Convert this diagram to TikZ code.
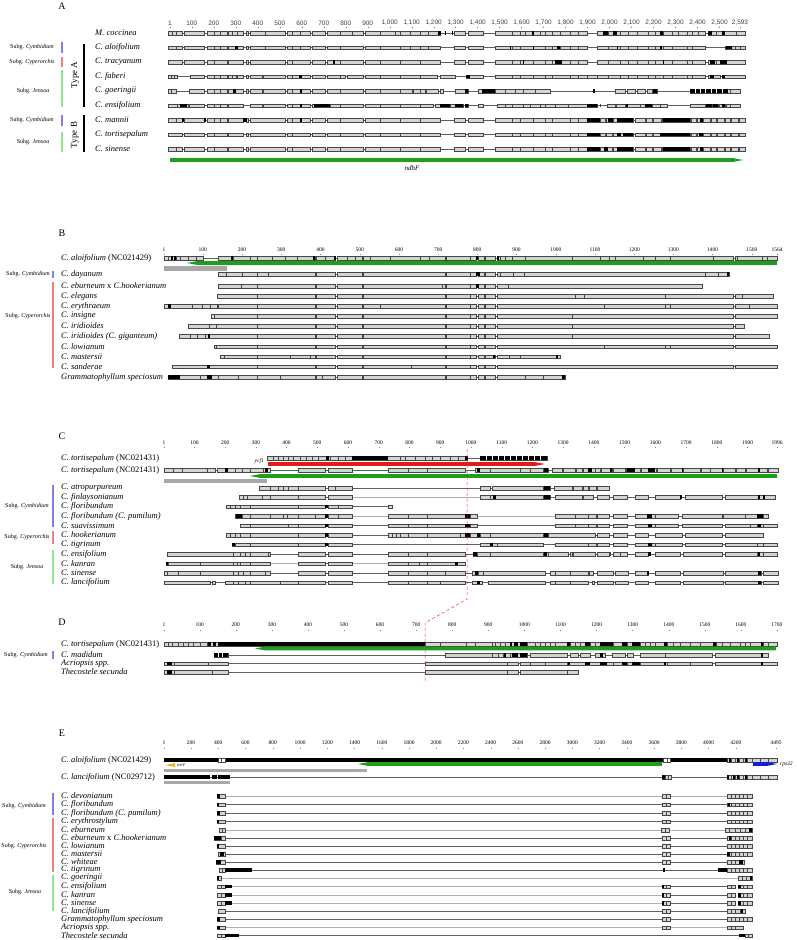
\documentclass[tikz,border=0pt]{standalone}
\usepackage{fontspec}
\setmainfont{Liberation Serif}
\newfontfamily\numsans{Liberation Sans}
\definecolor{boxfill}{RGB}{212,212,212}
\definecolor{boxedge}{RGB}{70,70,70}
\definecolor{linedark}{RGB}{95,95,95}
\definecolor{linelight}{RGB}{175,175,175}
\definecolor{subgblue}{RGB}{128,128,236}
\definecolor{subgred}{RGB}{238,128,128}
\definecolor{subggreen}{RGB}{140,232,140}
\definecolor{genegreen}{RGB}{28,160,28}
\definecolor{genered}{RGB}{222,28,28}
\definecolor{geneorange}{RGB}{242,178,30}
\definecolor{geneblue}{RGB}{20,30,212}
\definecolor{regiongrey}{RGB}{168,168,168}
\definecolor{cutred}{RGB}{222,40,60}
\usetikzlibrary{calc}

\newcommand{\segs}[3][seqbox]{\edef\seglist{#3}\foreach \xa/\xb in \seglist {\draw[#1] (\xa,#2-1.7) rectangle (\xb,#2+1.7);}}
\newcommand{\blks}[2]{\edef\seglist{#2}\foreach \xa/\xb in \seglist {\fill[black] (\xa,#1-1.7) rectangle (\xb,#1+1.7);}}
\newcommand{\divs}[3][divline]{\foreach \xa in {#3} {\draw[#1] (\xa,#2-1.7) -- (\xa,#2+1.7);}}
\newcommand{\gapline}[4][rowline]{\draw[#1] (#3,#2) -- (#4,#2);}
\newcommand{\geneL}[4]{\fill[#1] (#3,#2) -- (#3+10,#2-1.9) -- (#4,#2-1.9) -- (#4,#2+1.9) -- (#3+10,#2+1.9) -- cycle;}
\newcommand{\geneR}[4]{\fill[#1] (#4,#2) -- (#4-10,#2-1.9) -- (#3,#2-1.9) -- (#3,#2+1.9) -- (#4-10,#2+1.9) -- cycle;}

\def\Al{168/182,184/204,207/227,228/243,246/248,250/285,287/310,312/325,327/363,365/400}
\def\Ar{400/440,454/465,468/483,495/512,512/533,533/552,552/570,570/587,597/608,608/620,620/637,637/648,648/663,663/687,687/705,708/745}
\def\Arb{400/440,454/465,468/483,495/512,512/533,533/552,552/570,570/587,587/600,600/605,606/612,613/620,620/627,628/633,635/645,646/652,653/661,662/667,668/681,682/690,691/696,697/702,703/710,711/716,717/724,725/730,731/738,739/745}
\def\Bm{257/315,316/335,337/362,363/445,446/470,470/476,478/484,485/495}
\def\Cm{298/325,328/352}
\def\Cr{388/408,408/427,427/465}
\def\Ct{480/490,490/543,548/553,555/570,570/588,589/593,597/613,615/628,635/648,655/680,683/723,725/758,758/761,763/777}
\def\Et{727/731,731/735,735/739,739/743,743/747,747/752}

\begin{document}
\begin{tikzpicture}[x=1pt,y=-1pt,
  seqbox/.style={fill=boxfill,draw=boxedge,line width=0.35pt},
  divline/.style={draw=boxedge,line width=0.3pt},
  rowline/.style={draw=linedark,line width=0.5pt},
  lightline/.style={draw=linelight,line width=0.6pt},
  sp/.style={anchor=west,inner sep=0pt,font=\fontsize{8.5}{9}\selectfont\itshape},
  subg/.style={inner sep=0pt,font=\fontsize{6}{6.5}\selectfont},
  num/.style={inner sep=0pt,font=\fontsize{5.5}{6}\selectfont},
  numA/.style={inner sep=0pt,text=black!75,font=\numsans\fontsize{6.5}{7}\selectfont},
  panel/.style={inner sep=0pt,font=\fontsize{10}{11}\selectfont},
  gene/.style={inner sep=0pt,font=\fontsize{7}{8}\selectfont\itshape},
  smallgene/.style={inner sep=0pt,font=\fontsize{4.5}{5}\selectfont\itshape}]
\useasboundingbox (0,0) rectangle (796,940);

% ---------------- A
\node[panel] (pA) at (62,6) {A};
\node[numA] (a-n1) at (170,23) {1};
\draw[black!60,line width=0.3pt] (170,26.5) -- (170,28);
\foreach \v/\t in {100/100,200/200,300/300,400/400,500/500,600/600,700/700,800/800,900/900,1000/{1,000},1100/{1,100},1200/{1,200},1300/{1,300},1400/{1,400},1500/{1,500},1600/{1,600},1700/{1,700},1800/{1,800},1900/{1,900},2000/{2,000},2100/{2,100},2200/{2,200},2300/{2,300},2400/{2,400},2500/{2,500},2593/{2,593}}{
  \node[numA] (a-n\v) at ({170+(\v-1)*0.2199},23) {\t};
  \draw[black!60,line width=0.3pt] ({170+(\v-1)*0.2199},26.5) -- ({170+(\v-1)*0.2199},28);
}
\foreach \t [count=\i] in {{M. coccinea},{C. aloifolium},{C. tracyanum},{C. faberi},{C. goeringii},{C. ensifolium},{C. mannii},{C. tortisepalum},{C. sinense}}
  \node[sp] (a\i) at (95,{33+14.5*(\i-1)}) {\t};
\node[subg] (a-s1) at (32,47.5) {Subg. \textit{Cymbidium}};
\node[subg] (a-s2) at (32,62) {Subg. \textit{Cyperorchis}};
\node[subg] (a-s3) at (33,91) {Subg. \textit{Jensoa}};
\node[subg] (a-s4) at (32,120) {Subg. \textit{Cymbidium}};
\node[subg] (a-s5) at (33,142) {Subg. \textit{Jensoa}};
\draw[subgblue,line width=2pt] (62,42) -- (62,53);
\draw[subgred,line width=2pt] (62,57) -- (62,67);
\draw[subggreen,line width=2pt] (62,70) -- (62,107);
\draw[subgblue,line width=2pt] (62,115) -- (62,126);
\draw[subggreen,line width=2pt] (62,132) -- (62,152);
\node[rotate=90,inner sep=0pt,font=\fontsize{9}{10}\selectfont] (typeA) at (75,75) {Type A};
\node[rotate=90,inner sep=0pt,font=\fontsize{9}{10}\selectfont] (typeB) at (75,135) {Type B};
\draw[line width=2pt] (84,44) -- (84,107);
\draw[line width=2pt] (84,115) -- (84,152);

\gapline{33}{168}{745}
\segs{33}{\Al,\Ar}
\divs{33}{172,176,214,220,232,237,265,292,300,340,352,380,395,410,420,428,520,525,540,545,560,578,614,628,655,672,678,692,698,716,724,736}
\blks{33}{438/441,445/446,452/453,532/534,603/608,613/617,660/663,708/712,722/725}

\gapline{47.5}{168}{745}
\segs{47.5}{\Al,400/440,454/465,468/483,495/512,512/533,533/552,552/570,570/587,597/608,608/620,620/637,637/648,648/663,663/687,687/705,725/745}
\divs{47.5}{176,214,220,265,292,300,340,380,410,420,428,520,545,560,578,628,655,672,692,735,740}
\blks{47.5}{235/238,510/511,533/534,557/560,617/618,660/662,726/732}

\gapline{62}{168}{745}
\segs{62}{\Al,\Ar}
\divs{62}{214,292,340,380,420,520,545,578,628,655,672,692,716,724}
\blks{62}{333/335,523/524,555/562,663/664,710/715,720/727}

\gapline{76.5}{168}{745}
\segs{76.5}{168/177,190/204,207/227,228/236,237/243,246/248,250/262,263/285,287/310,312/325,327/345,347/363,365/400,400/437,440/455,466/483,495/512,512/533,533/552,552/570,570/587,587/597,597/608,608/620,620/637,637/648,648/663,663/687,687/705,708/720,722/745}
\divs{76.5}{171,174,214,220,232,292,340,380,420,520,545,578,628,655,672,692}
\blks{76.5}{299/302,466/470,710/714,722/725}

\gapline{91}{168}{740}
\segs{91}{168/176,189/204,207/227,228/243,246/248,250/262,263/285,287/300,301/310,312/325,327/363,365/400,400/412,413/425,426/438,440/443,455/468,478/495,495/523,523/550,615/625,627/635,637/645,647/652,653/657,690/740}
\divs{91}{171,214,220,292,340,380,420,505,515,535,730}
\blks{91}{233/236,300/302,465/468,482/495,593/595,653/657,690/728}
\divs[draw=white,line width=0.3pt]{91}{695,700,705,711,716,722}

\gapline{105.5}{168}{740}
\segs{105.5}{168/177,177/188,189/204,207/227,228/243,250/262,263/285,287/310,312/330,330/363,365/400,400/433,435/440,440/450,450/463,465/468,478/483,497/512,512/523,523/540,540/555,555/568,568/587,587/597,607/615,616/625,626/640,640/652,652/667,690/705,706/712,713/718,719/725,726/740}
\divs{105.5}{214,220,292,340,380,420,505,530,545,600,660,730}
\blks{105.5}{180/187,300/302,314/330,440/450,455/463,465/468,587/597,626/628,645/652,706/712,713/718,722/725}

\gapline{120}{168}{745}
\segs{120}{\Al,\Arb}
\divs{120}{176,214,220,292,340,380,420,520,545,578}
\blks{120}{182/184,204/206,243/247,300/302,587/600,608/613,617/633,663/690,700/703}

\gapline{134.5}{168}{745}
\segs{134.5}{\Al,\Arb}
\divs{134.5}{214,292,340,380,420,520,545,578}
\blks{134.5}{587/600,617/621,623/633,660/690,699/703}

\gapline{149}{168}{745}
\segs{149}{\Al,\Arb}
\divs{149}{176,214,292,340,380,420,520,545,578}
\blks{149}{587/600,604/608,617/633,663/690,700/703}

\geneR{genegreen}{160}{170}{743}
\node[gene] (ndhF) at (412,168.5) {ndhF};

% ---------------- B
\node[panel] (pB) at (62,233) {B};
\node[num] (b-n1) at (164,250) {1};
\draw[black!50,line width=0.4pt] (164,254) -- (164,255);
\foreach \v in {100,200,...,1500,1564}{
  \node[num] (b-n\v) at ({164+(\v-1)*0.3922},250) {\v};
  \draw[black!50,line width=0.4pt] ({164+(\v-1)*0.3922},254) -- ({164+(\v-1)*0.3922},255);
}
\node[sp] (b0) at (61,258) {C. aloifolium \textup{(NC021429)}};
\foreach \t/\y [count=\i] in {{C. dayanum}/274,{C. eburneum \textup{x} C.hookerianum}/286,{C. elegans}/296,{C. erythraeum}/306,{C. insigne}/316,{C. iridioides}/326,{C. iridioides (C. giganteum)}/336,{C. lowianum}/346.5,{C. mastersii}/356.5,{C. sanderae}/366.5,{Grammatophyllum speciosum}/377}
  \node[sp] (b\i) at (61,\y) {\t};
\node[subg] (b-s1) at (28,274) {Subg. \textit{Cymbidium}};
\node[subg] (b-s2) at (28,316) {Subg. \textit{Cyperorchis}};
\draw[subgblue,line width=2pt] (53,271) -- (53,278);
\draw[subgred,line width=2pt] (53,282) -- (53,368);

\gapline{258}{164}{777}
\segs{258}{164/203,218/257,\Bm,497/733,735/777}
\divs{258}{168,176,180,188,196,233,250,272,285,297,325,347,355,370,390,420,429,500,505,512,525,572,600,609,615,643,655,670,713,737,762,767}
\blks{258}{171/173,174/176,231/233,313/315,334/336,476/478,497/499}
\geneL{genegreen}{263}{187}{777}
\fill[regiongrey] (164,266) rectangle (227,270.5);

\gapline{274}{218}{729}
\segs{274}{218/257,\Bm,497/729}
\divs{274}{226,242,268,500,513,524,705,718}
\blks{274}{476/480,727/729}

\gapline{286}{218}{702}
\segs{286}{218/257,\Bm,497/702}
\divs{286}{241,442,508}
\blks{286}{476/479}

\gapline{296}{217}{773}
\segs{296}{217/257,\Bm,497/733,735/773}
\divs{296}{575,584,665,742}

\gapline{306}{164}{777}
\segs{306}{164/217,218/257,\Bm,497/733,735/777}
\divs{306}{192,202,210,380,604,665,670,749}
\blks{306}{168/171}

\gapline{316}{211}{777}
\segs{316}{211/257,\Bm,497/733,735/777}
\divs{316}{214,572}

\gapline{326}{188}{744}
\segs{326}{188/257,\Bm,497/733,735/744}
\divs{326}{209,216,572}

\gapline{336}{179}{769}
\segs{336}{179/257,\Bm,497/733,735/769}
\divs{336}{190,197,205,572}
\blks{336}{208/210}

\gapline{346.5}{214}{777}
\segs{346.5}{214/216,216/257,\Bm,497/733,735/777}
\divs{346.5}{604,665,670}

\gapline{356.5}{220}{560}
\segs{356.5}{220/257,\Bm,497/560}
\divs{356.5}{224,290,310,509,520}
\blks{356.5}{493/495,556/558}

\gapline{366.5}{172}{777}
\segs{366.5}{172/257,\Bm,497/733,735/777}
\divs{366.5}{411}
\blks{366.5}{207/210}

\gapline{377}{168}{565}
\segs{377}{168/257,\Bm,497/565}
\divs{377}{200,218,238,280,322,525,543}
\blks{377}{168/180,207/212,562/565}

% ---------------- C
\node[panel] (pC) at (62,436) {C};
\node[num] (c-n1) at (164,443) {1};
\draw[black!50,line width=0.4pt] (164,447) -- (164,448);
\foreach \v in {100,200,...,1900,1996}{
  \node[num] (c-n\v) at ({164+(\v-1)*0.3073},443) {\v};
  \draw[black!50,line width=0.4pt] ({164+(\v-1)*0.3073},447) -- ({164+(\v-1)*0.3073},448);
}
\node[sp] (c01) at (61,458) {C. tortisepalum \textup{(NC021431)}};
\node[sp] (c02) at (61,470) {C. tortisepalum \textup{(NC021431)}};
\foreach \t/\y [count=\i] in {{C. atropurpureum}/488,{C. finlaysonianum}/497,{C. floribundum}/506.5,{C. floribundum (C. pumilum)}/516,{C. suavissimum}/525.5,{C. hookerianum}/535,{C. tigrinum}/544.5,{C. ensifolium}/554,{C. kanran}/563.5,{C. sinense}/573,{C. lancifolium}/582.5}
  \node[sp] (c\i) at (61,\y) {\t};
\node[subg] (c-s1) at (27,506) {Subg. \textit{Cymbidium}};
\node[subg] (c-s2) at (27,537) {Subg. \textit{Cyperorchis}};
\node[subg] (c-s3) at (27,567) {Subg. \textit{Jensoa}};
\draw[subgblue,line width=2pt] (53,485) -- (53,527);
\draw[subgred,line width=2pt] (53,531) -- (53,544);
\draw[subggreen,line width=2pt] (53,550) -- (53,584);

\gapline{458}{267}{547}
\segs{458}{267/300,300/330,330/352,352/400,400/467,480/547}
\divs{458}{273,278,283,288,293,306,312,318,338,345,405,415,425,432,440,450,458}
\blks{458}{326/329,352/388,465/468,480/547}
\divs[draw=white,line width=0.3pt]{458}{486,492,498,504,510,516,522,528,534,540}
\geneR{genered}{464}{268}{545}
\node[smallgene,font=\fontsize{5.5}{6}\selectfont\itshape,anchor=east] (ycf1) at (264,461.5) {ycf1};

\gapline{470}{164}{778}
\segs{470}{164/215,217/225,225/235,235/242,242/250,250/263,263/270,\Cm,\Cr,475/490,490/543,543/548,552/562,563/575,576/582,583/600,601/612,613/625,626/640,641/648,648/656,657/670,671/682,683/700,701/722,723/735,736/745,746/758,759/767,768/778}
\divs{470}{173,182,207,520,530,595,700,710}
\blks{470}{225/228,265/268,477/480,544/548,588/592,610/612,627/635,648/655,682/683,722/723,758/760}
\geneL{genegreen}{476}{250}{777}
\fill[regiongrey] (164,479) rectangle (267,483);

\gapline{488}{259}{352}
\gapline{488}{352}{480}
\gapline{488}{480}{609}
\segs{488}{259/270,270/298,\Cm,480/490,492/543,543/550,554/572,573/582,583/588,589/596,597/609}
\divs{488}{278,283,288,335}
\blks{488}{544/550}

\gapline{497}{239}{352}
\gapline[lightline]{497}{352}{480}
\gapline{497}{480}{775}
\segs{497}{239/247,247/270,270/298,\Cm,480/490,490/543,543/550,555/582,583/593,597/609,613/627,635/648,655/680,685/722,725/775}
\divs{497}{243,262,582}
\blks{497}{493/496,544/550,680/682,758/760,763/765}

\gapline{506.5}{226}{392}
\segs{506.5}{226/230,230/235,235/240,240/250,250/298,\Cm,388/392}
\divs{506.5}{338}
\blks{506.5}{325/328}

\gapline{516}{235}{352}
\gapline[lightline]{516}{352}{388}
\gapline{516}{388}{477}
\gapline[lightline]{516}{477}{555}
\gapline{516}{555}{768}
\segs{516}{235/242,242/250,250/270,270/298,\Cm,\Cr,465/470,470/477,555/588,588/596,597/609,613/627,635/648,648/655,655/678,682/722,723/757,757/763,763/768}
\divs{516}{283,287,315,338,575,745}
\blks{516}{236/242,325/328,465/470,647/652,757/763}

\gapline{525.5}{240}{777}
\segs{525.5}{240/250,250/298,\Cm,\Cr,465/470,470/477,555/588,588/596,597/609,613/627,635/648,648/655,655/678,682/722,725/757,757/763,763/777}
\divs{525.5}{288,575,750}
\blks{525.5}{325/328,465/470,648/652,758/761}

\gapline{535}{226}{763}
\segs{535}{226/230,230/235,235/240,240/250,250/298,\Cm,\Cr,465/470,470/480,480/490,490/543,544/548,548/595,597/609,613/627,635/648,655/682,685/722,725/763}
\divs{535}{392,396,400,460}
\blks{535}{325/328,465/470,477/480,544/548}

\gapline{544.5}{232}{777}
\segs{544.5}{232/235,235/250,250/298,\Cm,480/490,490/497,497/543,555/588,588/596,597/609,613/627,635/648,648/655,655/682,685/722,725/757,757/763,763/777}
\blks{544.5}{232/235,325/328,490/493,648/652}

\gapline{554}{167}{777}
\segs{554}{167/233,233/240,240/245,245/250,250/270,\Cm,\Cr,473/477,477/490,490/543,544/548,548/568,570/572,573/595,597/609,613/627,635/648,655/680,683/722,725/757,757/763,763/777}
\divs{554}{268,610,620}
\blks{554}{473/477,544/547,648/651,758/760}

\gapline{563.5}{166}{270}
\gapline[lightline]{563.5}{270}{298}
\gapline{563.5}{298}{352}
\gapline[lightline]{563.5}{352}{388}
\segs{563.5}{166/168,168/233,233/237,237/240,240/250,250/270,\Cm,\Cr}
\divs{563.5}{200,408,419}
\blks{563.5}{166/168,455/458}

\gapline{573}{164}{778}
\segs{573}{164/167,167/233,233/238,238/243,243/250,250/265,265/270,\Cm,\Cr,472/477,478/483,483/545,550/555,555/570,570/588,589/593,597/613,615/628,635/648,655/680,683/723,725/758,758/761,763/778}
\divs{573}{178,200,408,445}
\blks{573}{475/478,647/649,758/761}

\gapline{582.5}{164}{778}
\segs{582.5}{164/210,212/215,225/233,233/238,238/245,245/250,250/280,280/298,\Cm,\Cr,472/482,488/545,550/555,555/570,570/588,592/594,597/613,615/628,635/648,655/680,683/723,725/758,758/761,763/778}
\divs{582.5}{408,440}
\blks{582.5}{477/480,758/761}

% ---------------- D
\node[panel] (pD) at (62,622) {D};
\node[num] (d-n1) at (164,625) {1};
\draw[black!50,line width=0.4pt] (164,629.5) -- (164,630.5);
\foreach \v in {100,200,...,1700}{
  \node[num] (d-n\v) at ({164+(\v-1)*0.3608},625) {\v};
  \draw[black!50,line width=0.4pt] ({164+(\v-1)*0.3608},629.5) -- ({164+(\v-1)*0.3608},630.5);
}
\foreach \t/\y [count=\i] in {{C. tortisepalum \textup{(NC021431)}}/644,{C. madidum}/655,{Acriopsis spp.}/663.5,{Thecostele secunda}/672}
  \node[sp] (d\i) at (61,\y) {\t};
\node[subg] (d-s1) at (26,655) {Subg. \textit{Cymbidium}};
\draw[subgblue,line width=2pt] (53,651) -- (53,659);

\gapline{644}{164}{777}
\segs{644}{164/200,200/207,207/222,222/425,425/440,440/466,466/475,475/492,492/510,510/527,527/567,567/570,570/585,585/590,590/600,600/613,613/622,622/627,627/632,632/640,640/664,664/667,667/690,690/713,713/716,716/740,740/761,761/763,763/777}
\divs{644}{168,172,178,183,188,193,495,500,505,535,540,545,550,555,575,580,595,645,650,655,673,680,700,722,730,745,750,768}
\blks{644}{208/211,213/216,218/222,222/425,510/512,514/518,520/527,567/570,585/590,600/613,622/627,632/640,664/667,713/716,761/763}
\geneL{genegreen}{648.5}{255}{776}

\gapline{655}{214}{768}
\segs{655}{214/228,445/492,492/498,498/503,503/510,510/527,530/567,570/578,580/590,595/605,612/625,627/633,640/665,665/712,715/768}
\blks{655}{214/228,504/506,512/518,520/527,600/603,761/763}
\divs[draw=white,line width=0.3pt]{655}{218,222}

\gapline{663.5}{164}{777}
\segs{663.5}{164/174,174/208,208/228,425/507,507/518,520/567,567/585,585/600,600/613,613/622,622/627,627/632,632/640,640/664,664/667,667/712,715/777}
\divs{663.5}{168,171,530,545,690}
\blks{663.5}{167/172,568/570,585/590,600/607,622/627,632/640,664/666,761/763}

\gapline{672}{164}{578}
\segs{672}{164/174,174/212,212/228,425/507,507/518,520/567,567/578}
\divs{672}{168,171}
\blks{672}{167/172}

\coordinate (cutA) at (467,449);
\coordinate (cutB) at (467,599);
\coordinate (cutC) at (425,623);
\coordinate (cutD) at (425,683);
\draw[cutred,line width=0.5pt,dash pattern=on 3pt off 2.5pt] (cutA) -- (cutB) -- (cutC) -- (cutD);

% ---------------- E
\node[panel] (pE) at (62,733) {E};
\node[num] (e-n1) at (164,743) {1};
\draw[black!50,line width=0.4pt] (164,747.5) -- (164,748.5);
\foreach \v in {200,400,...,4200,4495}{
  \node[num] (e-n\v) at ({164+(\v-1)*0.13618},743) {\v};
  \draw[black!50,line width=0.4pt] ({164+(\v-1)*0.13618},747.5) -- ({164+(\v-1)*0.13618},748.5);
}
\node[sp] (e01) at (61,760) {C. aloifolium \textup{(NC021429)}};
\node[sp] (e02) at (61,777) {C. lancifolium \textup{(NC029712)}};
\foreach \t/\y [count=\i] in {{C. devonianum}/796,{C. floribundum}/804.5,{C. floribundum (C. pumilum)}/813,{C. erythrostylum}/821.5,{C. eburneum}/830,{C. eburneum \textup{x} C.hookerianum}/838,{C. lowianum}/846,{C. mastersii}/854,{C. whiteae}/862,{C. tigrinum}/870,{C. goeringii}/878,{C. ensifolium}/886.5,{C. kanran}/895,{C. sinense}/903,{C. lancifolium}/911,{Grammatophyllum speciosum}/919,{Acriopsis spp.}/927.5,{Thecostele secunda}/935.5}
  \node[sp] (e\i) at (61,\y) {\t};
\node[subg] (e-s1) at (24,806) {Subg. \textit{Cymbidium}};
\node[subg] (e-s2) at (24,846) {Subg. \textit{Cyperorchis}};
\node[subg] (e-s3) at (25,892) {Subg. \textit{Jensoa}};
\draw[subgblue,line width=2pt] (53,793) -- (53,815);
\draw[subgred,line width=2pt] (53,818) -- (53,872);
\draw[subggreen,line width=2pt] (53,875) -- (53,911);

\blks{760}{164/663,670/727}
\segs[fill=white,draw=boxedge,line width=0.35pt]{760}{218/221,221/225,663/667,667/670}
\segs{760}{\Et,752/760,760/768,768/777}
\blks{760}{729/731,737/739,745/747}
\geneL{geneorange}{765}{165}{175}
\node[smallgene,anchor=west] (trnV) at (177,765) {trnV};
\geneL{genegreen}{764}{358}{662}
\geneR{geneblue}{764}{753}{777}
\node[smallgene,font=\fontsize{5.5}{6}\selectfont\itshape,anchor=west] (rps32) at (780,764) {rps32};
\fill[regiongrey] (164,768.5) rectangle (367,771.5);

\gapline{777}{164}{777}
\blks{777}{164/210,212/217,218/230}
\segs{777}{662/665,665/668,668/671,\Et,752/760,760/768,768/777}
\blks{777}{662/665,727/729,733/735,737/739,745/747}
\fill[regiongrey] (164,780.5) rectangle (230,783.5);

\gapline[lightline]{796}{225}{727}
\segs{796}{217/225,662/666,666/670,\Et}
\blks{796}{217/220}

\gapline{804.5}{225}{727}
\segs{804.5}{217/225,662/666,666/670,\Et}
\blks{804.5}{217/219,728/730}

\gapline{813}{225}{727}
\segs{813}{217/225,662/666,666/670,\Et}
\blks{813}{217/220}

\gapline{821.5}{225}{727}
\segs{821.5}{217/225,662/666,666/670,\Et}
\blks{821.5}{217/219}

\gapline[lightline]{830}{225}{725}
\segs{830}{219/222,222/225,661/665,665/669,725/729,729/735,735/740,740/745,745/752}
\blks{830}{749/752}

\gapline{838}{225}{727}
\segs{838}{214/218,218/221,221/225,662/666,666/670,\Et}
\blks{838}{214/221,729/731}

\gapline{846}{225}{727}
\segs{846}{217/225,662/666,666/670,\Et}
\blks{846}{217/219}

\gapline{854}{225}{727}
\segs{854}{218/225,662/666,666/670,\Et}
\blks{854}{220/224,727/730}

\gapline{862}{225}{727}
\segs{862}{216/225,662/666,666/670,727/731,731/735,735/739,739/744}
\blks{862}{216/221,739/743}

\gapline{870}{219}{718}
\segs{870}{219/222,222/225,\Et}
\blks{870}{225/252,663/665,718/727}

\gapline[lightline]{878}{221}{738}
\segs{878}{217/221,738/742,742/746,746/752}
\blks{878}{217/219,750/752}

\foreach \y in {886.5,895,903}{
  \gapline[lightline]{\y}{232}{662}
  \gapline{\y}{670}{727}
  \segs{\y}{217/221,221/225,662/666,666/670,727/731,731/735,738/743,743/747,747/752}
  \blks{\y}{225/232,662/664,738/741}
}

\gapline{911}{225}{727}
\segs{911}{218/225,662/666,666/670,727/731,731/735,735/740,740/745}
\blks{911}{741/743}

\gapline{919}{225}{727}
\segs{919}{217/225,662/666,666/670,\Et}
\blks{919}{217/220}

\gapline[lightline]{927.5}{225}{727}
\segs{927.5}{217/225,662/666,666/670,727/731,731/735,735/743}
\blks{927.5}{217/220}

\gapline{935.5}{239}{739}
\segs{935.5}{217/221,221/225,745/748,748/752}
\blks{935.5}{225/239,739/745}
\end{tikzpicture}
\end{document}
